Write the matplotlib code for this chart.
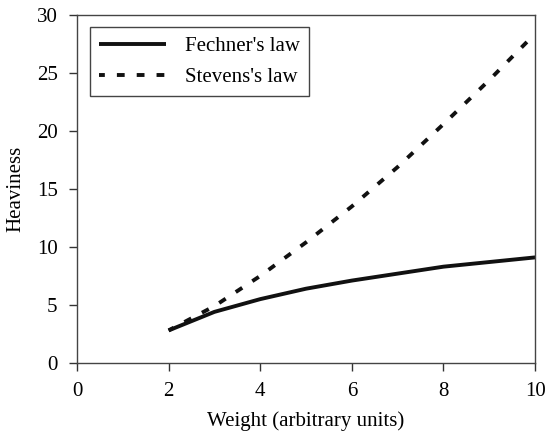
import matplotlib
matplotlib.use("Agg")
import matplotlib.pyplot as plt

weight = [2, 3, 4, 5, 6, 7, 8, 9, 10]
fechner = [2.8, 4.4, 5.5, 6.4, 7.1, 7.7, 8.3, 8.7, 9.1]
stevens = [2.8, 4.9, 7.5, 10.4, 13.5, 16.9, 20.6, 24.4, 28.4]

plt.rcParams['font.family'] = ['Liberation Serif', 'DejaVu Serif']
plt.rcParams['font.size'] = 15

fig = plt.figure(figsize=(5.48, 4.32), dpi=100)
ax = fig.add_axes([0.1405, 0.160, 0.836, 0.805])

ax.plot(weight, fechner, color='#111111', lw=2.8, label="Fechner's law", solid_capstyle='butt')
ax.plot(weight, stevens, color='#111111', lw=2.8, linestyle=(0.5, (2.0, 3.1)), label="Stevens's law")

ax.set_xlim(0, 10)
ax.set_ylim(0, 30)
ax.set_xticks([0, 2, 4, 6, 8, 10])
ax.set_yticks([0, 5, 10, 15, 20, 25, 30])
ax.tick_params(direction='out', length=6, width=1, color='#333333', pad=8, labelsize=15)
for s in ax.spines.values():
    s.set_color('#444444')
    s.set_linewidth(1.0)

ax.set_xlabel('Weight (arbitrary units)', labelpad=7)
ax.set_ylabel('Heaviness', labelpad=8)

leg = ax.legend(loc='upper left', bbox_to_anchor=(0.028, 0.966), fancybox=False,
                edgecolor='#444444', framealpha=1, handlelength=3.2, fontsize=15,
                borderpad=0.45, labelspacing=0.55, handletextpad=0.9, borderaxespad=0)
leg.get_frame().set_linewidth(1.0)

fig.savefig('out.png', dpi=100)
